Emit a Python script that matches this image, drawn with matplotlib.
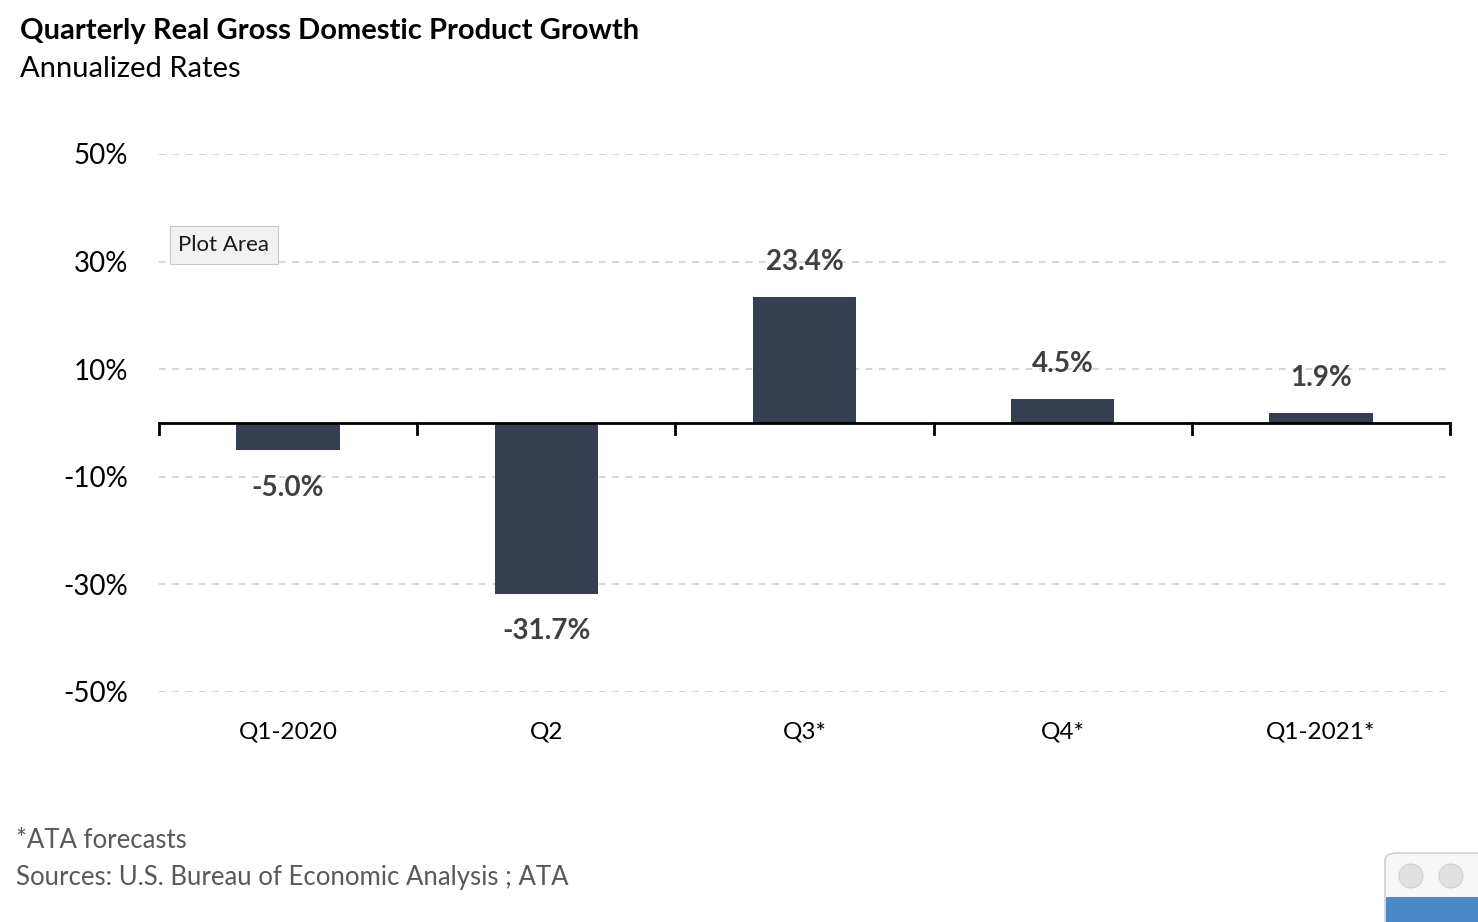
import matplotlib.pyplot as plt
from matplotlib.patches import FancyBboxPatch, Ellipse, Rectangle

plt.rcParams['font.family'] = ['Lato', 'DejaVu Sans']

quarters = ["Q1-2020", "Q2", "Q3*", "Q4*", "Q1-2021*"]
growth = [-5.0, -31.7, 23.4, 4.5, 1.9]
yticks = [50, 30, 10, -10, -30, -50]

W, H = 1478, 922
fig = plt.figure(figsize=(W / 100, H / 100), dpi=100)
ax = fig.add_axes([159 / W, (H - 692) / H, (1450 - 159) / W, (692 - 154) / H])

x = list(range(len(quarters)))
ax.bar(x, growth, width=0.4, color='#353f4f', zorder=3)

ax.set_xlim(-0.5, len(quarters) - 0.5)
ax.set_ylim(-50, 50)
ax.set_yticks(yticks)
ax.set_yticklabels([f"{t}%" for t in yticks], fontsize=20)
ax.tick_params(axis='y', length=0, pad=22)
ax.grid(axis='y', color='#d0d0d0', linestyle=(0, (4, 4)), lw=1.2, zorder=0)
for s in ax.spines.values():
    s.set_visible(False)
ax.set_xticks([])

# zero axis line with boundary ticks
ax.axhline(0, color='black', lw=2, zorder=4)
for b in [i - 0.5 for i in range(len(quarters) + 1)]:
    ax.plot([b, b], [0, -2], color='black', lw=2, zorder=4, clip_on=False)

for xi, v, q in zip(x, growth, quarters):
    off = 6.5 if v > 0 else -7.0
    ax.text(xi, v + off, f"{v:.1f}%", ha='center', va='center', fontsize=20,
            fontweight='bold', color='#404040')
    ax.text(xi, -57.5, q, ha='center', va='center', fontsize=17.5, color='black')

ax.text((172 - 159) / (1450 - 159) + 0.005, (692 - 245) / (692 - 154), "Plot Area",
        transform=ax.transAxes, ha='left', va='center', fontsize=16, color='#1a1a1a',
        bbox=dict(boxstyle='square,pad=0.4', fc='#f2f2f2', ec='#c8c8c8', lw=0.8), zorder=6)

fig.text(20 / W, 1 - 31 / H, "Quarterly Real Gross Domestic Product Growth",
         fontsize=21, fontweight='bold', va='center', ha='left')
fig.text(20 / W, 1 - 69 / H, "Annualized Rates", fontsize=21, va='center', ha='left')
fig.text(16 / W, 1 - 840 / H, "*ATA forecasts", fontsize=18.5, color='#595959', va='center')
fig.text(16 / W, 1 - 877 / H, "Sources: U.S. Bureau of Economic Analysis ; ATA",
         fontsize=18.5, color='#595959', va='center')

# window widget in lower right corner
fig.patches.append(FancyBboxPatch((1385 / W, -0.02), 120 / W, (H - 853) / H + 0.02,
                                  boxstyle='round,pad=0,rounding_size=0.008',
                                  transform=fig.transFigure, fc='#f7f7f7', ec='#c8c8c8', lw=1))
fig.patches.append(Rectangle((1386 / W, 0), 100 / W, (H - 897) / H,
                             transform=fig.transFigure, fc='#4a88c7', ec='none'))
for cx in [1411, 1451]:
    fig.patches.append(Ellipse((cx / W, 1 - 876 / H), 24 / W, 24 / H, transform=fig.transFigure,
                               fc='#e0e0e0', ec='#d0d0d0', lw=0.8))

fig.savefig('out.png', dpi=100)
